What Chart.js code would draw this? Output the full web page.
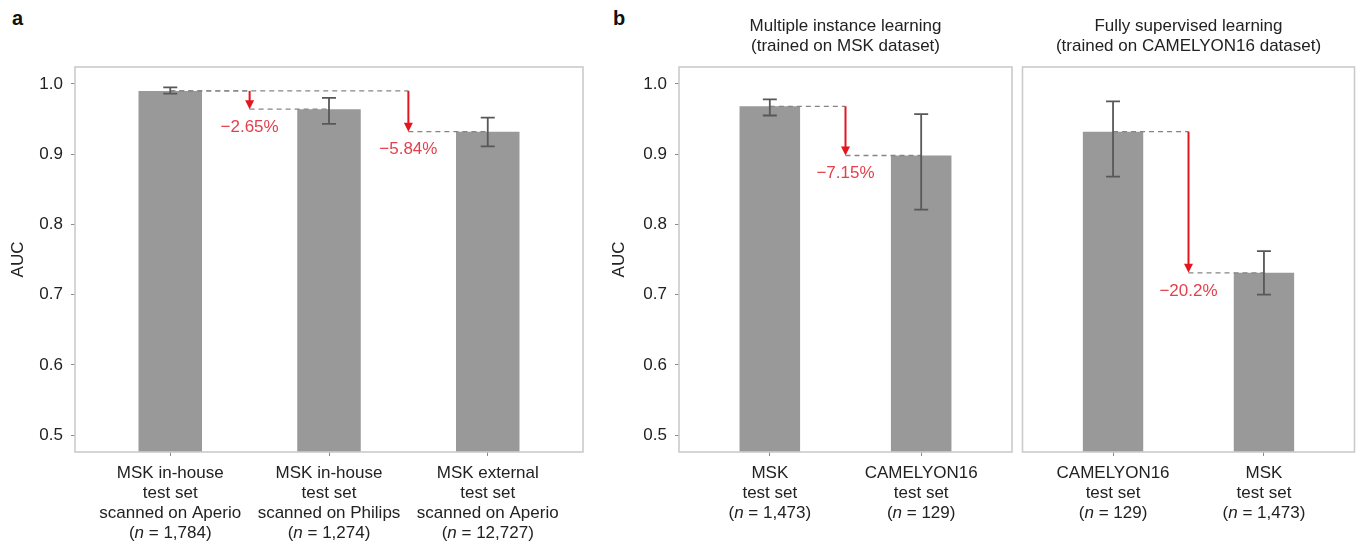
<!DOCTYPE html>
<html>
<head>
<meta charset="utf-8">
<script src="https://cdn.jsdelivr.net/npm/chart.js@4/dist/chart.umd.min.js"></script>
<style>
  html, body { margin: 0; padding: 0; background: #fff; }
  body { width: 1357px; height: 546px; position: relative; overflow: hidden; }
  .panel { position: absolute; top: 0; height: 546px; }
  .tag { position: absolute; top: 7px; line-height: 20px; font: bold 20px "Liberation Sans", Arial, sans-serif; color: #111; }
</style>
</head>
<body>
<div class="tag" style="left:12px">a</div>
<div class="tag" style="left:613px">b</div>
<div class="panel" style="left:0;width:600px"><canvas id="panelA"></canvas></div>
<div class="panel" style="left:600px;width:416px"><canvas id="panelB1"></canvas></div>
<div class="panel" style="left:1016px;width:341px"><canvas id="panelB2"></canvas></div>
<script>
// ---- data ----
const yTicks = [0.5, 0.6, 0.7, 0.8, 0.9, 1.0];

// a: one model tested on three MSK sets
const catsA = [
  ['MSK in-house', 'test set', 'scanned on Aperio'],
  ['MSK in-house', 'test set', 'scanned on Philips'],
  ['MSK external', 'test set', 'scanned on Aperio']
];
const countsA = ['1,784', '1,274', '12,727'];
const aucA   = [0.990, 0.964, 0.932];
const lowA   = [0.986, 0.943, 0.911];
const highA  = [0.995, 0.980, 0.952];
const dropFromA  = [0, 0];
const dropToA    = [1, 2];
const dropTextA  = ['\u22122.65%', '\u22125.84%'];

// b, left: multiple instance learning (trained on MSK)
const catsB1 = [
  ['MSK', 'test set'],
  ['CAMELYON16', 'test set']
];
const countsB1 = ['1,473', '129'];
const aucB1  = [0.968, 0.898];
const lowB1  = [0.955, 0.821];
const highB1 = [0.978, 0.957];
const dropFromB1 = [0];
const dropToB1   = [1];
const dropTextB1 = ['\u22127.15%'];
const titleB1 = ['Multiple instance learning', '(trained on MSK dataset)'];

// b, right: fully supervised learning (trained on CAMELYON16)
const catsB2 = [
  ['CAMELYON16', 'test set'],
  ['MSK', 'test set']
];
const countsB2 = ['129', '1,473'];
const aucB2  = [0.932, 0.731];
const lowB2  = [0.868, 0.700];
const highB2 = [0.975, 0.762];
const dropFromB2 = [0];
const dropToB2   = [1];
const dropTextB2 = ['\u221220.2%'];
const titleB2 = ['Fully supervised learning', '(trained on CAMELYON16 dataset)'];

// ---- styling ----
const FONT = '"Liberation Sans", Arial, Helvetica, sans-serif';
const TEXT = '#222222';
const BAR = '#999999';
const FRAME = '#cbcbcb';
const ERR = '#585858';
const GUIDE = '#858585';
const ARROW = '#e3161f';
const DROP_TEXT = '#e2404c';
const Y_MIN = 0.476, Y_MAX = 1.024;
const TICK_LEN = 4, TICK_PAD = 7, LINE_H = 20;

function decorations(p) {
  return {
    id: 'decorations',
    afterDatasetsDraw(chart) {
      const { ctx, chartArea: a, scales: { x, y } } = chart;
      ctx.save();

      // panel frame
      ctx.strokeStyle = FRAME;
      ctx.lineWidth = 1.6;
      ctx.strokeRect(a.left, a.top, a.right - a.left, a.bottom - a.top);

      // dashed guide lines between compared bars
      ctx.strokeStyle = GUIDE;
      ctx.lineWidth = 1.4;
      ctx.setLineDash([5, 4]);
      p.dropFrom.forEach((from, k) => {
        const to = p.dropTo[k];
        const xf = x.getPixelForValue(from);
        const xt = x.getPixelForValue(to);
        const xm = x.getPixelForValue(to - 0.5);
        const yf = y.getPixelForValue(p.values[from]);
        const yt = y.getPixelForValue(p.values[to]);
        ctx.beginPath();
        ctx.moveTo(xf, yf); ctx.lineTo(xm, yf);
        ctx.moveTo(xm, yt); ctx.lineTo(xt, yt);
        ctx.stroke();
      });
      ctx.setLineDash([]);

      // 95% CI error bars
      ctx.strokeStyle = ERR;
      ctx.lineWidth = 1.8;
      p.values.forEach((v, i) => {
        const cx = x.getPixelForValue(i);
        const yl = y.getPixelForValue(p.low[i]);
        const yh = y.getPixelForValue(p.high[i]);
        ctx.beginPath();
        ctx.moveTo(cx, yl); ctx.lineTo(cx, yh);
        ctx.moveTo(cx - 7, yl); ctx.lineTo(cx + 7, yl);
        ctx.moveTo(cx - 7, yh); ctx.lineTo(cx + 7, yh);
        ctx.stroke();
      });

      // red drop arrows with percentage labels
      p.dropFrom.forEach((from, k) => {
        const to = p.dropTo[k];
        const xm = x.getPixelForValue(to - 0.5);
        const yf = y.getPixelForValue(p.values[from]);
        const yt = y.getPixelForValue(p.values[to]);
        ctx.strokeStyle = ARROW;
        ctx.fillStyle = ARROW;
        ctx.lineWidth = 2;
        ctx.beginPath();
        ctx.moveTo(xm, yf); ctx.lineTo(xm, yt - 8);
        ctx.stroke();
        ctx.beginPath();
        ctx.moveTo(xm - 4.5, yt - 9);
        ctx.lineTo(xm + 4.5, yt - 9);
        ctx.lineTo(xm, yt);
        ctx.closePath();
        ctx.fill();
        ctx.fillStyle = DROP_TEXT;
        ctx.font = '17px ' + FONT;
        ctx.textAlign = 'center';
        ctx.textBaseline = 'middle';
        ctx.fillText(p.dropText[k], xm, yt + 18);
      });

      // two-line panel heading
      if (p.title) {
        ctx.fillStyle = TEXT;
        ctx.font = '17px ' + FONT;
        ctx.textAlign = 'center';
        ctx.textBaseline = 'middle';
        const cx = (a.left + a.right) / 2;
        p.title.forEach((line, i) => ctx.fillText(line, cx, 26 + i * 20));
      }
      ctx.restore();
    },
    afterDraw(chart) {
      // sample-size line under each category, with an italic n
      const { ctx, scales: { x } } = chart;
      ctx.save();
      ctx.fillStyle = TEXT;
      ctx.textBaseline = 'middle';
      ctx.textAlign = 'left';
      const upright = '17px ' + FONT, italic = 'italic 17px ' + FONT;
      p.counts.forEach((cnt, i) => {
        const lines = p.categories[i].length;
        const cy = x.top + TICK_LEN + TICK_PAD + LINE_H / 2 + lines * LINE_H;
        const parts = [['(', upright], ['n', italic], [' = ' + cnt + ')', upright]];
        let w = 0;
        parts.forEach(([t, f]) => { ctx.font = f; w += ctx.measureText(t).width; });
        let px = x.getPixelForValue(i) - w / 2;
        parts.forEach(([t, f]) => { ctx.font = f; ctx.fillText(t, px, cy); px += ctx.measureText(t).width; });
      });
      ctx.restore();
    }
  };
}

function makePanel(id, p) {
  const xTicks = p.categories.map((_, i) => i);
  return new Chart(document.getElementById(id), {
    type: 'bar',
    data: {
      datasets: [{
        data: p.values.map((v, i) => ({ x: i, y: v })),
        backgroundColor: BAR,
        borderWidth: 0,
        base: Y_MIN,
        barPercentage: 1,
        categoryPercentage: 0.4
      }]
    },
    options: {
      responsive: true,
      maintainAspectRatio: false,
      animation: false,
      layout: { padding: { top: 67, left: p.padLeft, right: p.padRight, bottom: 0 } },
      plugins: { legend: { display: false }, tooltip: { enabled: false }, title: { display: false } },
      scales: {
        x: {
          type: 'linear',
          offset: false,
          min: -0.6,
          max: p.categories.length - 0.4,
          afterBuildTicks(s) { s.ticks = xTicks.map(v => ({ value: v })); },
          afterFit(s) { s.height = 94; },
          ticks: {
            autoSkip: false, maxRotation: 0, minRotation: 0, padding: TICK_PAD,
            color: TEXT,
            font: { family: FONT, size: 17, lineHeight: LINE_H + 'px' },
            callback: v => p.categories[v]
          },
          grid: { offset: false, drawOnChartArea: false, drawTicks: true, tickLength: TICK_LEN, tickColor: '#8c8c8c', tickWidth: 1 },
          border: { display: false }
        },
        y: {
          display: p.showY,
          min: Y_MIN,
          max: Y_MAX,
          afterBuildTicks(s) { s.ticks = yTicks.map(v => ({ value: v })); },
          afterFit(s) { s.width = p.axisWidth; },
          ticks: {
            padding: 8,
            color: TEXT,
            font: { family: FONT, size: 17 },
            callback: v => v.toFixed(1)
          },
          grid: { drawOnChartArea: false, drawTicks: true, tickLength: TICK_LEN, tickColor: '#8c8c8c', tickWidth: 1 },
          border: { display: false },
          title: {
            display: true, text: 'AUC', color: TEXT,
            font: { family: FONT, size: 17 },
            padding: { top: p.titlePad, bottom: 0 }
          }
        }
      }
    },
    plugins: [decorations(p)]
  });
}

makePanel('panelA', {
  categories: catsA, counts: countsA, values: aucA, low: lowA, high: highA,
  dropFrom: dropFromA, dropTo: dropToA, dropText: dropTextA,
  showY: true, axisWidth: 75, padLeft: 0, padRight: 17, titlePad: 8
});
makePanel('panelB1', {
  categories: catsB1, counts: countsB1, values: aucB1, low: lowB1, high: highB1,
  dropFrom: dropFromB1, dropTo: dropToB1, dropText: dropTextB1, title: titleB1,
  showY: true, axisWidth: 79, padLeft: 0, padRight: 4, titlePad: 9
});
makePanel('panelB2', {
  categories: catsB2, counts: countsB2, values: aucB2, low: lowB2, high: highB2,
  dropFrom: dropFromB2, dropTo: dropToB2, dropText: dropTextB2, title: titleB2,
  showY: false, axisWidth: 0, padLeft: 6.5, padRight: 2.5, titlePad: 0
});
</script>
</body>
</html>
